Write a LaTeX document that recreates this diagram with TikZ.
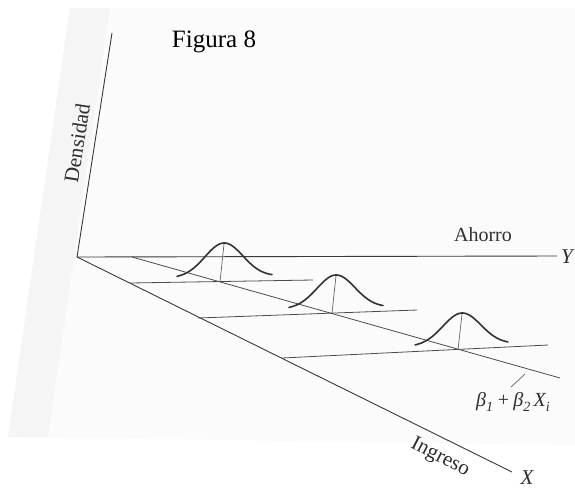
\documentclass[tikz,border=0pt]{standalone}
\usepackage{fontspec}
\setmainfont{Liberation Serif}
\begin{document}
\begin{tikzpicture}[x=1pt,y=-1pt,
  axis/.style={draw=black!78, line width=0.9pt},
  guide/.style={draw=black!70, line width=0.8pt},
  stem/.style={draw=black!60, line width=0.7pt},
  bell/.style={draw=black!80, line width=1.6pt, line cap=round},
  lab/.style={text=black!82, inner sep=0pt, font=\fontsize{20}{22}\selectfont}]
\useasboundingbox (0,0) rectangle (575,491);
% faint page background
\fill[black!1.5] (70,8) -- (575,8) -- (575,445) -- (8,437) -- cycle;
\fill[black!4] (70,8) -- (110,8) -- (48,437) -- (8,437) -- cycle;
% coordinates
\coordinate (O) at (77,257);
\coordinate (Ytip) at (557,256);
\coordinate (Dtop) at (112,33);
\coordinate (Xtip) at (512,472);
\coordinate (R0) at (132,257);
\coordinate (R1) at (560,378);
\coordinate (L1a) at (130,283);
\coordinate (L1b) at (313,280);
\coordinate (L2a) at (198,318);
\coordinate (L2b) at (417,310);
\coordinate (L3a) at (282,358);
\coordinate (L3b) at (548,345);
\coordinate (P1t) at (224,244);
\coordinate (P1b) at (220,282);
\coordinate (P2t) at (336,276);
\coordinate (P2b) at (332,313);
\coordinate (P3t) at (462,314);
\coordinate (P3b) at (458,350);
\coordinate (Ta) at (525,374);
\coordinate (Tb) at (511,387);
% axes
\draw[axis] (Dtop) -- (O);
\draw[axis] (O) -- (Ytip);
\draw[axis] (O) -- (Xtip);
% regression line and guides
\draw[guide] (R0) -- (R1);
\draw[guide] (L1a) -- (L1b);
\draw[guide] (L2a) -- (L2b);
\draw[guide] (L3a) -- (L3b);
\draw[stem] (Ta) -- (Tb);
% stems
\draw[stem] (P1b) -- (P1t);
\draw[stem] (P2b) -- (P2t);
\draw[stem] (P3b) -- (P3t);
% bells
\draw[bell] plot[domain=-47:48, samples=80, smooth] ({224+\x}, {277-0.02*\x-34*exp(-(\x*\x)/722)});
\draw[bell] plot[domain=-47:47, samples=80, smooth] ({336+\x}, {308-0.02*\x-33*exp(-(\x*\x)/722)});
\draw[bell] plot[domain=-47:46, samples=80, smooth] ({462+\x}, {345-0.03*\x-32*exp(-(\x*\x)/722)});
% labels
\node[lab, font=\fontsize{25}{28}\selectfont, text=black] (fig) at (214,42) {Figura 8};
\node[lab, rotate=81, font=\fontsize{21}{24}\selectfont] (dens) at (77,143) {Densidad};
\node[lab] (aho) at (483,235) {Ahorro};
\node[lab, font=\fontsize{21}{24}\selectfont\itshape] (ylab) at (567,257) {Y};
\node[lab, font=\fontsize{21}{24}\selectfont\itshape] (xlab) at (527,478) {X};
\node[lab, rotate=-27, font=\fontsize{21}{24}\selectfont] (ing) at (440,458) {Ingreso};
\node[lab, font=\fontsize{20}{22}\selectfont\itshape] (beta) at (513,402) {β\raisebox{-0.28em}{\fontsize{14}{16}\selectfont 1}\,+\,β\raisebox{-0.28em}{\fontsize{14}{16}\selectfont 2}\,X\raisebox{-0.28em}{\fontsize{14}{16}\selectfont i}};
\end{tikzpicture}
\end{document}
